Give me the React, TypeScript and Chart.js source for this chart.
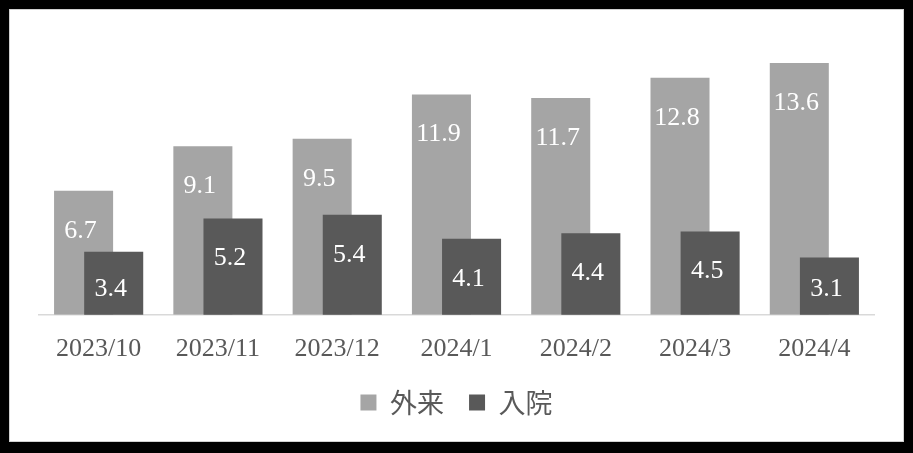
import React, { useEffect, useRef } from 'react'
import { Chart, registerables } from 'chart.js'

Chart.register(...registerables)

// Monthly counts
const months = ['2023/10', '2023/11', '2023/12', '2024/1', '2024/2', '2024/3', '2024/4']
const outpatient = [6.7, 9.1, 9.5, 11.9, 11.7, 12.8, 13.6]
const inpatient = [3.4, 5.2, 5.4, 4.1, 4.4, 4.5, 3.1]
const seriesNames = ['外来', '入院']

const SERIF = "'Liberation Serif', 'DejaVu Serif', serif"
const SANS_CJK = "'Noto Sans CJK JP', 'Noto Sans', sans-serif"

// Chart.js draws the last dataset first; draw the dark series over the grey one instead
const overlapOrder = {
  id: 'overlapOrder',
  beforeDatasetDraw(chart: any, args: any) {
    if (args.index === 1) return false
  },
  afterDatasetDraw(chart: any, args: any) {
    if (args.index === 0) chart.getDatasetMeta(1).controller.draw()
  }
}

// white value labels inside the top of each bar
const valueLabels = {
  id: 'valueLabels',
  afterDatasetsDraw(chart: any) {
    const { ctx } = chart
    ctx.save()
    ctx.fillStyle = '#ffffff'
    ctx.font = `26px ${SERIF}`
    ctx.textAlign = 'center'
    ctx.textBaseline = 'alphabetic'
    chart.data.datasets.forEach((ds: any, di: number) => {
      const meta = chart.getDatasetMeta(di)
      meta.data.forEach((bar: any, i: number) => {
        const y = Math.min(bar.y + 47, bar.base - 19)
        ctx.fillText(Number(ds.data[i]).toFixed(1), bar.x - 3, y)
      })
    })
    ctx.restore()
  }
}

export default function App() {
  const canvasRef = useRef<HTMLCanvasElement>(null)

  useEffect(() => {
    if (!canvasRef.current) return
    const chart = new Chart(canvasRef.current, {
      type: 'bar',
      data: {
        labels: months,
        datasets: [
          {
            label: seriesNames[0],
            data: outpatient,
            backgroundColor: '#a5a5a5',
            borderWidth: 0,
            categoryPercentage: 0.505,
            barPercentage: 1.96
          },
          {
            label: seriesNames[1],
            data: inpatient,
            backgroundColor: '#595959',
            borderWidth: 0,
            categoryPercentage: 0.505,
            barPercentage: 1.96
          }
        ]
      },
      options: {
        responsive: true,
        maintainAspectRatio: false,
        animation: false,
        layout: { padding: { left: 29, right: 29, top: 27, bottom: 15 } },
        scales: {
          x: {
            grid: { display: false },
            border: { display: true, color: '#d9d9d9', width: 1.5 },
            ticks: {
              color: '#595959',
              font: { family: SERIF, size: 26 },
              padding: 11,
              maxRotation: 0
            }
          },
          y: {
            display: false,
            min: 0,
            max: 15
          }
        },
        plugins: {
          legend: {
            position: 'bottom',
            labels: {
              color: '#595959',
              font: { family: SANS_CJK, size: 27 },
              boxWidth: 16,
              boxHeight: 16,
              padding: 13,
              generateLabels(c: any) {
                const items = Chart.defaults.plugins.legend.labels.generateLabels(c)
                // a little more room between the two entries
                items[0].text = items[0].text + '  '
                return items
              }
            }
          },
          tooltip: { enabled: false }
        }
      },
      plugins: [overlapOrder, valueLabels]
    })
    return () => {
      chart.destroy()
    }
  }, [])

  return (
    <div style={{ position: 'fixed', inset: 0, background: '#000' }}>
      <div
        style={{
          position: 'absolute',
          left: 9,
          top: 9,
          width: 893,
          height: 431,
          background: '#fff',
          border: '1px solid #d0d0d0'
        }}
      >
        <canvas ref={canvasRef} />
      </div>
    </div>
  )
}
